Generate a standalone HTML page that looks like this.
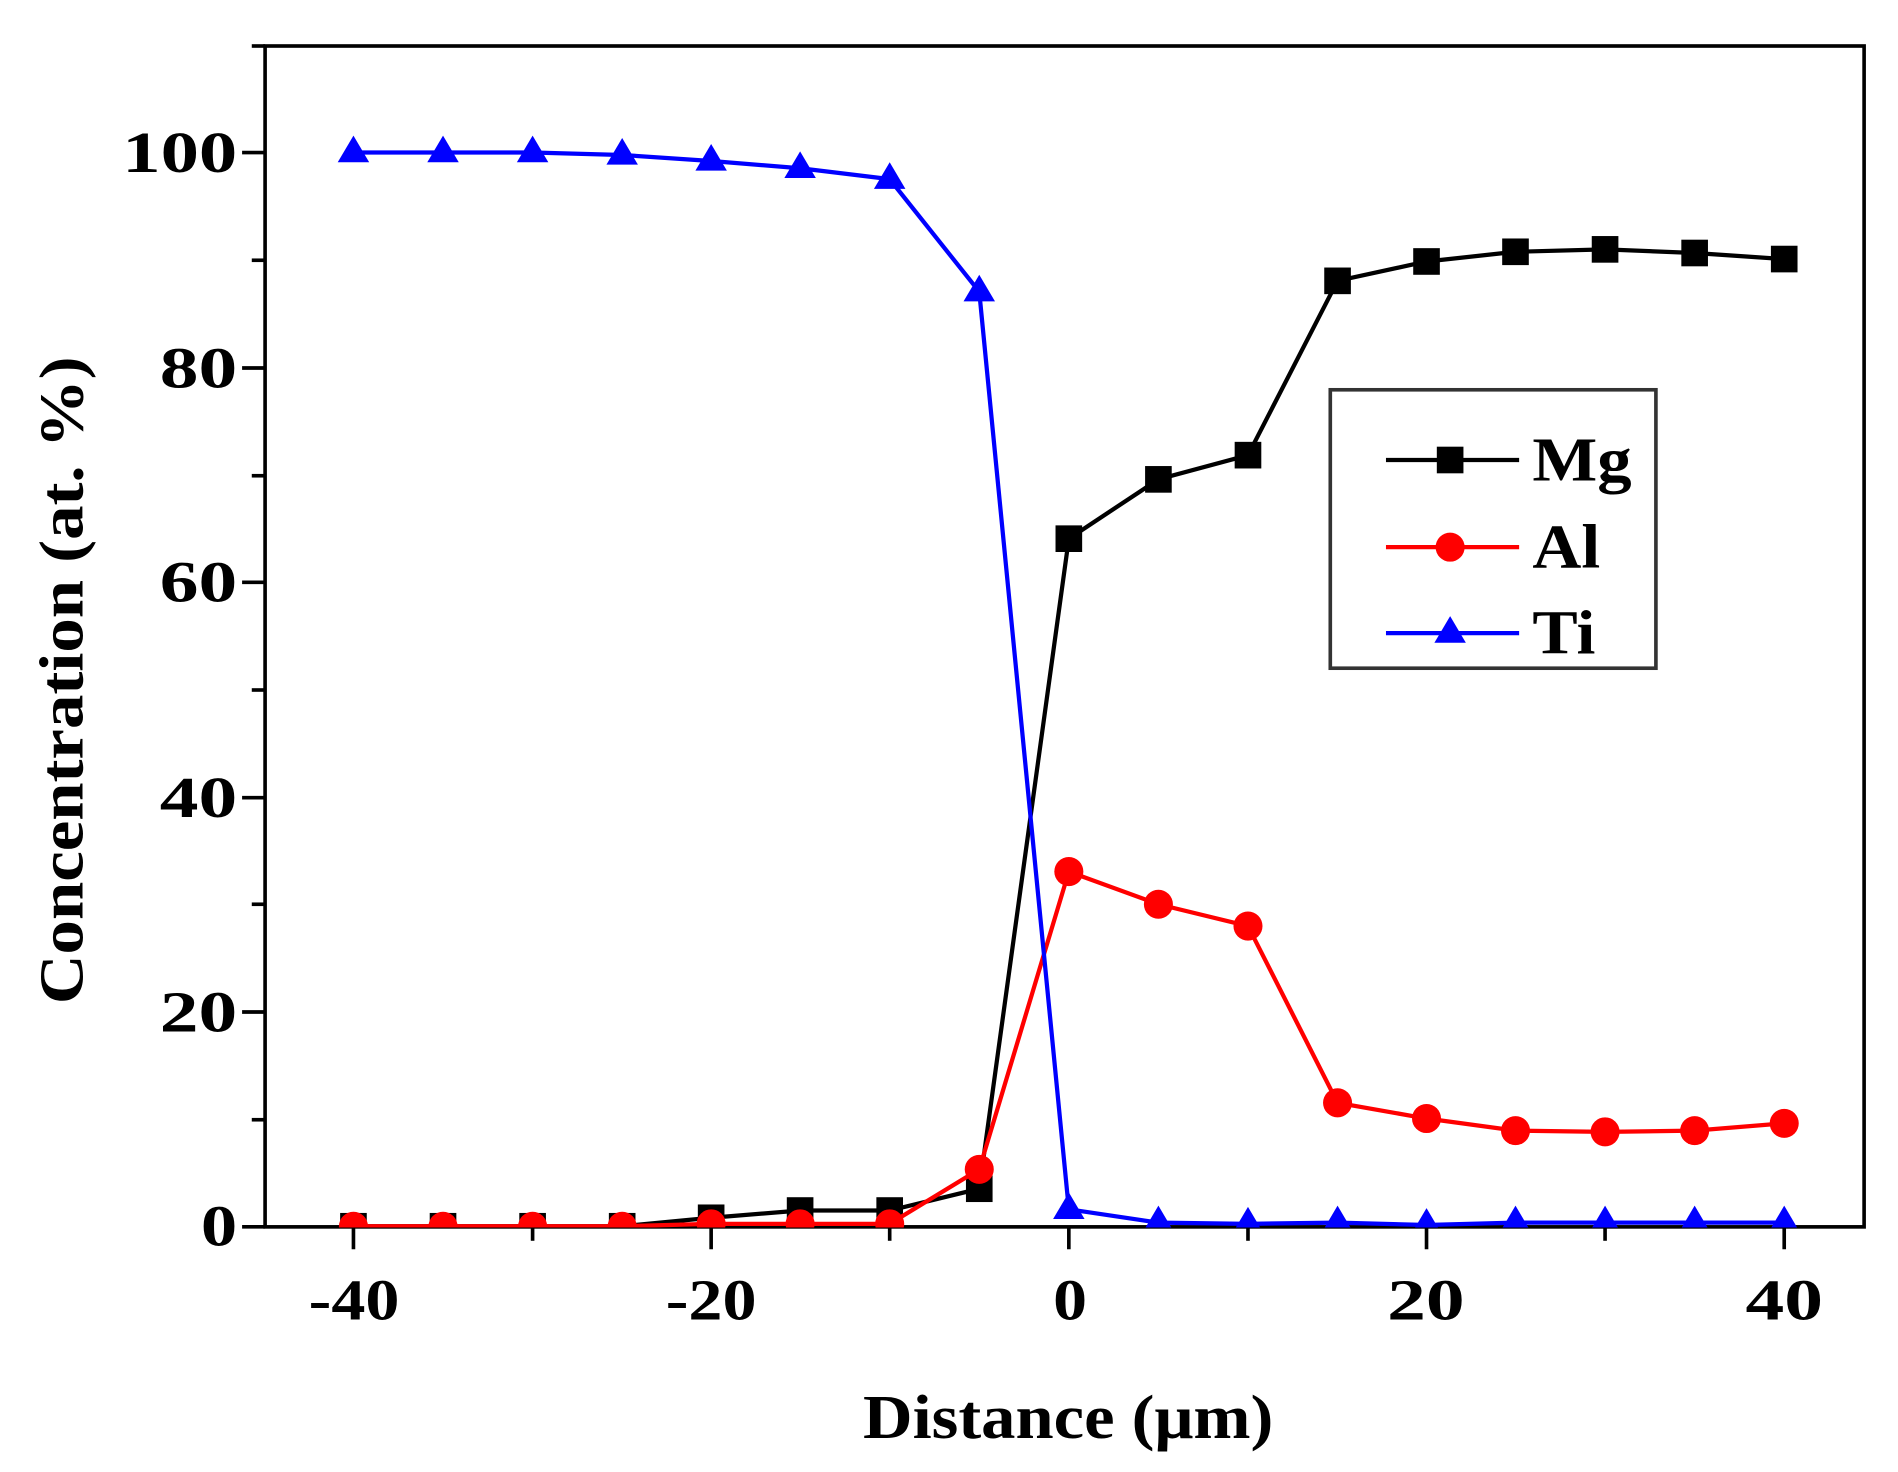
<!DOCTYPE html>
<html><head><meta charset="utf-8"><style>html,body{margin:0;padding:0;background:#fff}svg{display:block}text{font-family:"Liberation Serif",serif;font-weight:bold}</style></head>
<body>
<svg width="1898" height="1472" viewBox="0 0 1568 1216" preserveAspectRatio="none" xmlns="http://www.w3.org/2000/svg">
<defs><clipPath id="c"><rect x="219" y="38" width="1322" height="976"/></clipPath></defs>
<g stroke="#000" stroke-width="3" fill="none">
<rect x="219" y="38" width="1321" height="975.5"/>
<line x1="200" y1="1013.5" x2="219" y2="1013.5"/>
<line x1="200" y1="836" x2="219" y2="836"/>
<line x1="200" y1="659" x2="219" y2="659"/>
<line x1="200" y1="481" x2="219" y2="481"/>
<line x1="200" y1="304" x2="219" y2="304"/>
<line x1="200" y1="126" x2="219" y2="126"/>
<line x1="208" y1="925" x2="219" y2="925"/>
<line x1="208" y1="747" x2="219" y2="747"/>
<line x1="208" y1="570" x2="219" y2="570"/>
<line x1="208" y1="393" x2="219" y2="393"/>
<line x1="208" y1="215" x2="219" y2="215"/>
<line x1="208" y1="38" x2="219" y2="38"/>
<line x1="292" y1="1013" x2="292" y2="1032"/>
<line x1="587.5" y1="1013" x2="587.5" y2="1032"/>
<line x1="883" y1="1013" x2="883" y2="1032"/>
<line x1="1178.5" y1="1013" x2="1178.5" y2="1032"/>
<line x1="1474" y1="1013" x2="1474" y2="1032"/>
<line x1="440" y1="1013" x2="440" y2="1025"/>
<line x1="735" y1="1013" x2="735" y2="1025"/>
<line x1="1031" y1="1013" x2="1031" y2="1025"/>
<line x1="1326" y1="1013" x2="1326" y2="1025"/>
</g>
<g font-size="48" text-anchor="end">
<text x="196" y="1029" textLength="30" lengthAdjust="spacingAndGlyphs">0</text>
<text x="196" y="852" textLength="64" lengthAdjust="spacingAndGlyphs">20</text>
<text x="196" y="675" textLength="64" lengthAdjust="spacingAndGlyphs">40</text>
<text x="196" y="497" textLength="64" lengthAdjust="spacingAndGlyphs">60</text>
<text x="196" y="320" textLength="64" lengthAdjust="spacingAndGlyphs">80</text>
<text x="196" y="142" textLength="95" lengthAdjust="spacingAndGlyphs">100</text>
</g>
<g font-size="48">
<text x="255" y="1090" textLength="75" lengthAdjust="spacingAndGlyphs">-40</text>
<text x="550" y="1090" textLength="75" lengthAdjust="spacingAndGlyphs">-20</text>
<text x="870" y="1090" textLength="28" lengthAdjust="spacingAndGlyphs">0</text>
<text x="1146" y="1090" textLength="64" lengthAdjust="spacingAndGlyphs">20</text>
<text x="1442" y="1090" textLength="64" lengthAdjust="spacingAndGlyphs">40</text>
</g>
<text x="713" y="1188" font-size="52" textLength="339" lengthAdjust="spacingAndGlyphs">Distance (μm)</text>
<text transform="translate(68,562) rotate(-90)" font-size="52" text-anchor="middle" textLength="535" lengthAdjust="spacingAndGlyphs">Concentration (at. %)</text>
<g clip-path="url(#c)">
<polyline fill="none" stroke="#000" stroke-width="3.5" points="292,1013 366,1013 440,1013 514,1013 587.5,1006 661,1000 735,1000 809,982 883,445 957,396 1031,376 1105,232 1178.5,216 1252,208 1326,206 1400,209 1474,214"/>
<g fill="#000">
<rect x="281" y="1002" width="22" height="22"/><rect x="355" y="1002" width="22" height="22"/><rect x="429" y="1002" width="22" height="22"/><rect x="503" y="1002" width="22" height="22"/><rect x="576.5" y="995" width="22" height="22"/><rect x="650" y="989" width="22" height="22"/><rect x="724" y="989" width="22" height="22"/><rect x="798" y="971" width="22" height="22"/><rect x="872" y="434" width="22" height="22"/><rect x="946" y="385" width="22" height="22"/><rect x="1020" y="365" width="22" height="22"/><rect x="1094" y="221" width="22" height="22"/><rect x="1167.5" y="205" width="22" height="22"/><rect x="1241" y="197" width="22" height="22"/><rect x="1315" y="195" width="22" height="22"/><rect x="1389" y="198" width="22" height="22"/><rect x="1463" y="203" width="22" height="22"/>
</g>
<polyline fill="none" stroke="#f00" stroke-width="3.5" points="292,1013 366,1013 440,1013 514,1013 587.5,1011 661,1011 735,1011 809,966 883,720 957,747 1031,765 1105,911 1178.5,924 1252,934 1326,935 1400,934 1474,928"/>
<g fill="#f00">
<circle cx="292" cy="1013" r="12"/><circle cx="366" cy="1013" r="12"/><circle cx="440" cy="1013" r="12"/><circle cx="514" cy="1013" r="12"/><circle cx="587.5" cy="1011" r="12"/><circle cx="661" cy="1011" r="12"/><circle cx="735" cy="1011" r="12"/><circle cx="809" cy="966" r="12"/><circle cx="883" cy="720" r="12"/><circle cx="957" cy="747" r="12"/><circle cx="1031" cy="765" r="12"/><circle cx="1105" cy="911" r="12"/><circle cx="1178.5" cy="924" r="12"/><circle cx="1252" cy="934" r="12"/><circle cx="1326" cy="935" r="12"/><circle cx="1400" cy="934" r="12"/><circle cx="1474" cy="928" r="12"/>
</g>
<polyline fill="none" stroke="#00f" stroke-width="3.5" points="292,126 366,126 440,126 514,128 587.5,133 661,139 735,148 809,241 883,999 957,1010 1031,1011 1105,1010 1178.5,1012 1252,1010 1326,1010 1400,1010 1474,1010"/>
<g fill="#00f">
<path d="M292,112 l13,22 h-26z"/><path d="M366,112 l13,22 h-26z"/><path d="M440,112 l13,22 h-26z"/><path d="M514,114 l13,22 h-26z"/><path d="M587.5,119 l13,22 h-26z"/><path d="M661,125 l13,22 h-26z"/><path d="M735,134 l13,22 h-26z"/><path d="M809,227 l13,22 h-26z"/><path d="M883,985 l13,22 h-26z"/><path d="M957,996 l13,22 h-26z"/><path d="M1031,997 l13,22 h-26z"/><path d="M1105,996 l13,22 h-26z"/><path d="M1178.5,998 l13,22 h-26z"/><path d="M1252,996 l13,22 h-26z"/><path d="M1326,996 l13,22 h-26z"/><path d="M1400,996 l13,22 h-26z"/><path d="M1474,996 l13,22 h-26z"/>
</g>
</g>
<rect x="1099" y="322" width="269" height="230" fill="#fff" stroke="#333" stroke-width="3"/>
<line x1="1145" y1="380" x2="1255" y2="380" stroke="#000" stroke-width="3.5"/>
<rect x="1187" y="369" width="22" height="22" fill="#000"/>
<line x1="1145" y1="452" x2="1255" y2="452" stroke="#f00" stroke-width="3.5"/>
<circle cx="1198" cy="452" r="12" fill="#f00"/>
<line x1="1145" y1="523" x2="1255" y2="523" stroke="#00f" stroke-width="3.5"/>
<path d="M1198,509 l13,22 h-26z" fill="#00f"/>
<g font-size="52">
<text x="1266" y="397" textLength="82" lengthAdjust="spacingAndGlyphs">Mg</text>
<text x="1266" y="469" textLength="56" lengthAdjust="spacingAndGlyphs">Al</text>
<text x="1266" y="540" textLength="52" lengthAdjust="spacingAndGlyphs">Ti</text>
</g>
</svg>
</body></html>
